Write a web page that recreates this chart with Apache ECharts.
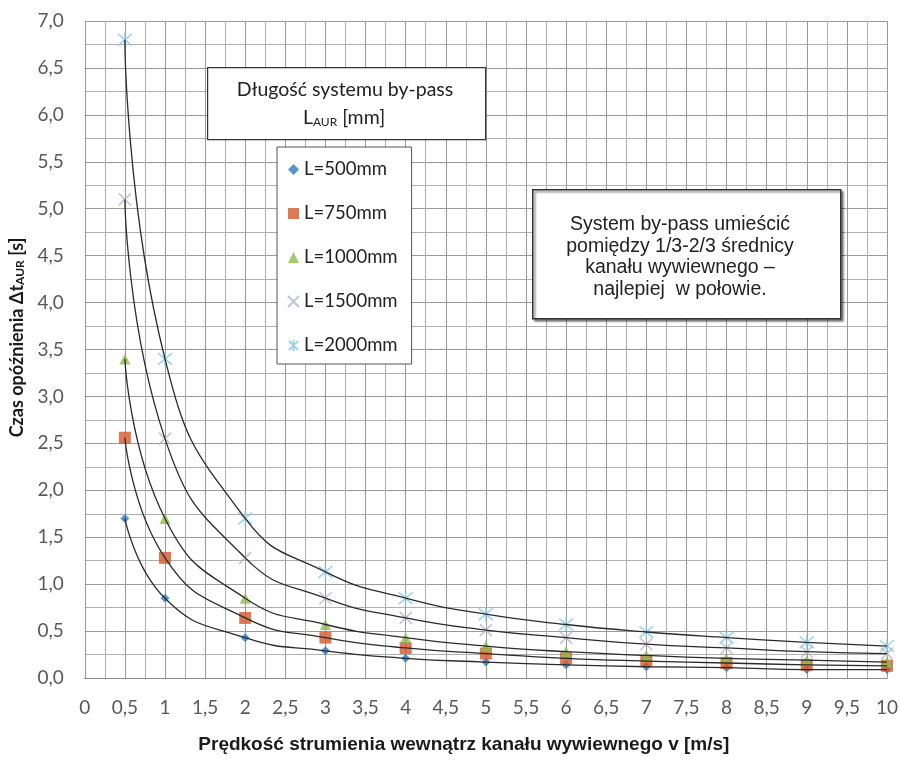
<!DOCTYPE html>
<html><head><meta charset="utf-8">
<script src="https://cdn.jsdelivr.net/npm/echarts@6/dist/echarts.min.js"></script>
<style>html,body{margin:0;padding:0;background:#fff}#c{width:901px;height:760px}</style>
</head><body><div id="c"></div>
<script>
var velocities = [0.5, 1, 2, 3, 4, 5, 6, 7, 8, 9, 10];
var seriesNames = ['L=500mm', 'L=750mm', 'L=1000mm', 'L=1500mm', 'L=2000mm'];
var t500  = [1.70, 0.85, 0.43, 0.29, 0.21, 0.17, 0.14, 0.12, 0.11, 0.09, 0.09];
var t750  = [2.56, 1.28, 0.64, 0.43, 0.32, 0.26, 0.21, 0.18, 0.16, 0.14, 0.13];
var t1000 = [3.40, 1.70, 0.85, 0.57, 0.43, 0.34, 0.28, 0.24, 0.21, 0.19, 0.17];
var t1500 = [5.10, 2.55, 1.28, 0.85, 0.64, 0.51, 0.43, 0.36, 0.32, 0.28, 0.26];
var t2000 = [6.80, 3.40, 1.70, 1.13, 0.85, 0.68, 0.57, 0.49, 0.43, 0.38, 0.34];
var xTicks = [0, 0.5, 1, 1.5, 2, 2.5, 3, 3.5, 4, 4.5, 5, 5.5, 6, 6.5, 7, 7.5, 8, 8.5, 9, 9.5, 10];
var yTicks = [0, 0.5, 1, 1.5, 2, 2.5, 3, 3.5, 4, 4.5, 5, 5.5, 6, 6.5, 7];

var allT = [t500, t750, t1000, t1500, t2000];
var colors = ['#2f78c0', '#d4582a', '#8dbd4c', '#b5b5cc', '#86c8e2'];
var symbols = [
  'diamond', 'rect', 'triangle',
  'path://M0,0L10,10M10,0L0,10',
  'path://M0,0L10,10M10,0L0,10M5,-1L5,11'
];
var sizes = [9, 12, 11, 12, 14];
function pairs(arr){ return velocities.map(function(v,i){ return [v, arr[i]]; }); }

var series = [];
allT.forEach(function(arr, k){
  var isLine = k >= 3;
  series.push({
    name: seriesNames[k], type: 'scatter', data: pairs(arr),
    symbol: symbols[k], symbolSize: sizes[k], z: 2,
    itemStyle: isLine ? {color: colors[k], borderColor: colors[k], borderWidth: 1.6} : {color: colors[k]}
  });
});
allT.forEach(function(arr, k){
  series.push({
    name: 'trend' + k, type: 'line', data: pairs(arr), smooth: 0.5,
    showSymbol: false, symbol: 'none', z: 5, silent: true,
    lineStyle: {color: '#2a2a2a', width: 1.3}
  });
});

var fmt = function(v){ return String(v).replace('.', ','); };
var chart = echarts.init(document.getElementById('c'));
chart.setOption({
  animation: false,
  backgroundColor: '#fff',
  textStyle: {fontFamily: 'Lato'},
  grid: {left: 82, right: 14, top: 21, bottom: 82},
  xAxis: {
    type: 'value', min: 0, max: 10, interval: 0.5,
    name: 'Prędkość strumienia wewnątrz kanału wywiewnego v [m/s]',
    nameLocation: 'middle', nameGap: 57,
    nameTextStyle: {fontFamily: 'Liberation Sans', fontWeight: 'bold', fontSize: 19, color: '#1a1a1a', padding: [0, 44, 0, 0]},
    axisLine: {lineStyle: {color: '#8c8c8c'}},
    axisTick: {show: false},
    axisLabel: {color: '#595959', fontSize: 19, margin: 20, formatter: function(v){ return xTicks.indexOf(v) >= 0 ? fmt(v) : ''; }},
    splitLine: {show: true, lineStyle: {color: '#9a9a9a', width: 1}},
    minorTick: {show: false, splitNumber: 2},
    minorSplitLine: {show: true, lineStyle: {color: '#b0b0b0', width: 1}}
  },
  yAxis: {
    type: 'value', min: 0, max: 7, interval: 0.5,
    name: '{a|Czas opóźnienia Δt}{s|AUR}{a| [s]}',
    nameLocation: 'middle', nameGap: 55,
    nameTextStyle: {padding: [0, 0, 0, 24], rich: {
      a: {fontFamily: 'Lato', fontWeight: 'bold', fontSize: 18, color: '#1a1a1a'},
      s: {fontFamily: 'Lato', fontWeight: 'bold', fontSize: 12, color: '#1a1a1a', verticalAlign: 'bottom', padding: [7,0,0,0]}
    }},
    axisLine: {show: false},
    axisTick: {show: false},
    axisLabel: {color: '#595959', fontSize: 19, margin: 21, formatter: function(v){ return yTicks.indexOf(v) >= 0 ? v.toFixed(1).replace('.', ',') : ''; }},
    splitLine: {show: true, lineStyle: {color: '#9a9a9a', width: 1}},
    minorTick: {show: false, splitNumber: 2},
    minorSplitLine: {show: true, lineStyle: {color: '#b0b0b0', width: 1}}
  },
  legend: {
    data: seriesNames.map(function(n, k){ return {name: n, icon: symbols[k]}; }),
    orient: 'vertical', left: 277, top: 147, width: 133,
    backgroundColor: '#fff', borderColor: '#555', borderWidth: 1,
    padding: [13, 14, 9, 10], itemGap: 25, itemWidth: 11, itemHeight: 11,
    textStyle: {fontFamily: 'Lato', fontSize: 18.5, color: '#222'}
  },
  graphic: [
    {type: 'rect', left: 207, top: 67, shape: {width: 278, height: 72}, z: 50,
     style: {fill: '#fff', stroke: '#333', lineWidth: 1.2}},
    {type: 'text', z: 51,
     style: {text: 'Długość systemu by-pass', fill: '#222', font: '19.5px Lato', x: 345, y: 80, textAlign: 'center'}},
    {type: 'text', z: 51,
     style: {x: 344, y: 107, textAlign: 'center',
       rich: {a: {fontFamily: 'Lato', fontSize: 19.5, fill: '#222'}, s: {fontFamily: 'Lato', fontSize: 12, fill: '#222', padding: [9,0,0,0]}},
       text: '{a|L}{s|AUR}{a| [mm]}'}},
    {type: 'rect', left: 532, top: 189, shape: {width: 308, height: 129}, z: 50,
     style: {fill: '#fff', stroke: '#333', lineWidth: 1.5, shadowBlur: 2, shadowOffsetX: 2, shadowOffsetY: 2, shadowColor: 'rgba(0,0,0,0.45)'}},
    {type: 'text', z: 51,
     style: {x: 680, y: 214, textAlign: 'center', lineHeight: 21.5, fill: '#222', font: '19.5px "Liberation Sans"',
       text: 'System by-pass umieścić\npomiędzy 1/3-2/3 średnicy\nkanału wywiewnego –\nnajlepiej  w połowie.'}}
  ],
  series: series
});
</script></body></html>
